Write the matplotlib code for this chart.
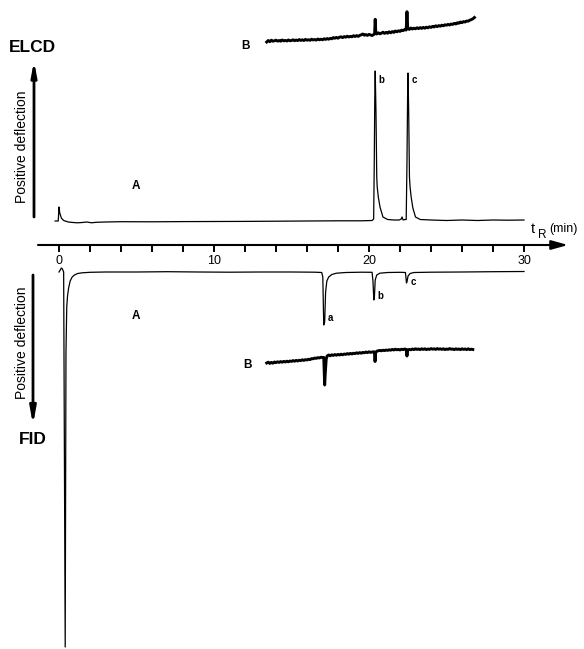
import matplotlib
matplotlib.use("Agg")
import matplotlib.pyplot as plt

plt.rcParams['font.family'] = ['Liberation Sans', 'DejaVu Sans']

# ---------------- data ----------------
tick_major = [0, 10, 20, 30]
tick_minor = [2, 4, 6, 8, 12, 14, 16, 18, 22, 24, 26, 28]
tick_labels = ['0', '10', '20', '30']

# ELCD chromatogram A (retention time, min / response, positive up)
elcd_a_t = [-0.25, -0.05, 0.0, 0.05, 0.15, 0.3, 0.6, 0.9, 1.2, 1.5, 1.8, 2.1, 2.4,
            3.0, 4.0, 6.0, 8.0, 10.0, 12.0, 14.0, 16.0, 18.0, 19.5, 20.2, 20.3,
            20.34, 20.37, 20.4, 20.45, 20.5, 20.53, 20.6, 20.71, 20.9, 21.2, 21.6,
            21.95, 22.08, 22.13, 22.2, 22.32, 22.4, 22.45, 22.49, 22.52, 22.56,
            22.61, 22.65, 22.72, 22.83, 23.0, 23.3, 24.0, 25.0, 26.0, 27.0, 28.0,
            29.0, 30.0]
elcd_a_v = [1, 1, 15, 9, 4, 1.5, 0, -0.5, -0.8, -0.5, 0, -0.8, -0.3,
            0, 0.3, 0.2, 0.4, 0.5, 0.6, 0.8, 1.0, 1.2, 1.2, 1.5, 3,
            60, 120, 151, 110, 45, 35, 25, 15, 5, 2.5, 2,
            2, 3, 5, 2, 2.5, 2.5, 60, 125, 149, 110,
            45, 35, 25, 14, 5, 2.5, 2, 1.5, 2, 1.5, 2,
            1.8, 2]

# FID chromatogram A (positive deflection downward)
fid_a_t = [0.0, 0.08, 0.15, 0.22, 0.30, 0.40, 0.45, 0.5, 0.55, 0.62, 0.72, 0.85,
           1.0, 1.2, 1.5, 2.0, 3, 5, 7, 9, 11, 13, 15, 16.5, 16.95, 17.02, 17.08,
           17.14, 17.2, 17.28, 17.4, 17.6, 17.9, 18.5, 19.5, 20.2, 20.26, 20.31,
           20.35, 20.4, 20.5, 20.7, 21.2, 22.0, 22.35, 22.42, 22.46, 22.52, 22.65,
           22.9, 24, 26, 28, 30]
fid_a_v = [0, -2, -4, -3, 0, 375, 80, 35, 24, 16, 9, 5,
           3, 1.5, 0.8, 0.3, 0, 0, -0.3, 0, 0.2, 0, 0, 0.2, 0.5, 5, 53,
           50, 20, 9, 5, 2.5, 1.2, 0.5, 0.2, 0.3, 10, 28,
           25, 8, 3, 1.2, 0.5, 0.3, 0.5, 11, 9, 4, 1.5,
           0.5, 0.2, 0, -0.3, -0.5]

# ELCD chromatogram B (expanded, positive up)
elcd_b_t = [13.4, 13.5, 13.6, 13.7, 13.8, 13.9, 14.0, 14.1, 14.2, 14.3, 14.4, 14.5,
            14.6, 14.7, 14.8, 14.9, 15.0, 15.1, 15.2, 15.3, 15.4, 15.5, 15.6, 15.7,
            15.8, 15.9, 16.0, 16.1, 16.2, 16.3, 16.4, 16.5, 16.6, 16.7, 16.8, 16.9,
            17.0, 17.1, 17.2, 17.3, 17.4, 17.5, 17.6, 17.7, 17.8, 17.9, 18.0, 18.1,
            18.2, 18.3, 18.4, 18.5, 18.6, 18.7, 18.8, 18.9, 19.0, 19.1, 19.2, 19.3,
            19.4, 19.5, 19.6, 19.7, 19.8, 19.9, 20.0, 20.1, 20.2, 20.3, 20.36, 20.4,
            20.44, 20.5, 20.6, 20.7, 20.8, 20.9, 21.0, 21.1, 21.2, 21.3, 21.4, 21.5,
            21.6, 21.7, 21.8, 21.9, 22.0, 22.1, 22.2, 22.3, 22.4, 22.45, 22.5, 22.6,
            22.7, 22.8, 22.9, 23.0, 23.1, 23.2, 23.3, 23.4, 23.5, 23.6, 23.7, 23.8,
            23.9, 24.0, 24.1, 24.2, 24.3, 24.4, 24.5, 24.6, 24.7, 24.8, 24.9, 25.0,
            25.1, 25.2, 25.3, 25.4, 25.5, 25.6, 25.7, 25.8, 25.9, 26.0, 26.1, 26.2,
            26.3, 26.4, 26.5, 26.6, 26.7, 26.8]
elcd_b_v = [0, 1.5, 0.3, 1.8, 0.8, 1.2, 1.8, 0.9, 1.5, 0.8, 2, 1.1,
            1.6, 1.0, 2.0, 1.2, 1.5, 2.2, 1.3, 2.0, 1.4, 2.4, 1.6, 2.2,
            1.5, 2.6, 1.8, 2.3, 1.7, 2.8, 2.0, 2.5, 1.9, 3.0, 2.2, 2.8,
            2.2, 3.2, 2.6, 3.4, 2.8, 3.6, 3.2, 4.4, 3.8, 4.6, 3.8, 4.8,
            5.2, 4.4, 5.4, 4.8, 5.8, 5.0, 5.6, 5.2, 6.3, 5.5, 6.4, 5.6,
            6.6, 7.2, 8.0, 6.8, 7.4, 6.6, 7.6, 7.0, 6.5, 7.5, 8.0, 22.7,
            9.0, 8.0, 9.2, 8.2, 8.8, 9.8, 8.6, 9.6, 8.8, 10.2, 9.2, 10.4,
            9.6, 11.0, 10.2, 11.2, 10.6, 11.8, 11.4, 12.4, 12.0, 30.3, 13.6, 12.6,
            14.0, 13.0, 13.8, 13.2, 14.2, 13.4, 14.4, 13.6, 14.6, 13.8, 14.8, 14.2,
            15.2, 14.6, 15.6, 15.0, 16.2, 15.4, 16.4, 15.8, 16.8, 16.2, 17.2, 16.8,
            17.6, 17.0, 18.0, 17.6, 18.6, 18.0, 19.2, 18.8, 20.0, 19.4, 20.4, 20.0,
            21.0, 20.8, 21.8, 22.4, 23.2, 24.5]

# FID chromatogram B (expanded, positive deflection downward)
fid_b_t = [13.4, 13.5, 13.6, 13.7, 13.8, 13.9, 14.0, 14.1, 14.2, 14.3, 14.4, 14.5,
           14.6, 14.7, 14.8, 14.9, 15.0, 15.1, 15.2, 15.3, 15.4, 15.5, 15.6, 15.7,
           15.8, 15.9, 16.0, 16.1, 16.2, 16.3, 16.4, 16.5, 16.6, 16.7, 16.8, 16.9,
           17.0, 17.08, 17.14, 17.18, 17.24, 17.3, 17.4, 17.5, 17.6, 17.7, 17.8,
           17.9, 18.0, 18.1, 18.2, 18.3, 18.4, 18.5, 18.6, 18.7, 18.8, 18.9, 19.0,
           19.1, 19.2, 19.3, 19.4, 19.5, 19.6, 19.7, 19.8, 19.9, 20.0, 20.1, 20.2,
           20.3, 20.35, 20.39, 20.43, 20.5, 20.6, 20.7, 20.8, 20.9, 21.0, 21.1, 21.2,
           21.3, 21.4, 21.5, 21.6, 21.7, 21.8, 21.9, 22.0, 22.1, 22.2, 22.3, 22.4,
           22.45, 22.5, 22.6, 22.7, 22.8, 22.9, 23.0, 23.1, 23.2, 23.3, 23.4, 23.5,
           23.6, 23.7, 23.8, 23.9, 24.0, 24.1, 24.2, 24.3, 24.4, 24.5, 24.6, 24.7,
           24.8, 24.9, 25.0, 25.1, 25.2, 25.3, 25.4, 25.5, 25.6, 25.7, 25.8, 25.9,
           26.0, 26.1, 26.2, 26.3, 26.4, 26.5, 26.6, 26.7]
fid_b_v = [0, -0.8, 0.4, -0.6, 0.2, -1.0, -0.4, -1.2, -0.6, -1.4, -0.8, -1.6,
           -1.0, -1.8, -1.2, -2.0, -1.6, -2.4, -1.8, -2.6, -2.0, -2.8, -2.4, -3.2,
           -2.6, -3.4, -3.0, -3.8, -3.4, -4.4, -4.2, -5.0, -4.6, -5.4, -5.0, -5.8,
           -5.4, -5.6, 22, 10, -4, -7.0, -8.0, -7.2, -8.2, -7.6, -8.4,
           -7.8, -8.6, -8.0, -8.8, -8.2, -9.0, -8.6, -9.4, -8.8, -9.6, -9.0, -9.8,
           -9.4, -10.2, -9.6, -10.4, -9.8, -10.6, -10.2, -11.0, -10.4, -11.2, -10.6, -11.0,
           -11.2, -11.0, -1.5, -10.5, -11.8, -12.2, -12.6, -12.2, -12.8, -12.4, -13.0, -12.6,
           -13.2, -12.8, -13.6, -13.0, -13.8, -13.2, -13.6, -13.0, -13.8, -13.4, -14.0, -13.6,
           -7.0, -13.0, -13.6, -13.2, -14.0, -13.4, -14.2, -13.6, -14.0, -13.4, -14.2, -13.6,
           -14.2, -13.4, -14.0, -13.6, -14.4, -13.8, -14.2, -13.6, -14.4, -13.8, -14.2, -13.6,
           -14.2, -13.4, -14.0, -13.6, -14.4, -13.8, -14.0, -13.4, -14.2, -13.6, -14.0, -13.4,
           -14.2, -13.6, -14.0, -13.4, -14.2, -13.4, -13.8, -13.5]

# ---------------- layout ----------------
W, H = 584, 649
T0_PX = 59.0          # pixel column of t = 0
PX_PER_MIN = 15.5
XLIM = (-T0_PX / PX_PER_MIN, (W - T0_PX) / PX_PER_MIN)

fig = plt.figure(figsize=(W / 100, H / 100), dpi=100)
fig.patch.set_facecolor('white')


def trace_axes(baseline_px, downward=False):
    ax = fig.add_axes([0, 0, 1, 1])
    ax.set_xlim(*XLIM)
    if downward:
        ax.set_ylim(H - baseline_px, -baseline_px)
    else:
        ax.set_ylim(-(H - baseline_px), baseline_px)
    ax.axis('off')
    ax.patch.set_visible(False)
    return ax


# decoration axes in pixel coordinates
deco = fig.add_axes([0, 0, 1, 1])
deco.set_xlim(0, W)
deco.set_ylim(H, 0)
deco.axis('off')
deco.patch.set_visible(False)

# time axis
AXIS_Y = 245
tax = fig.add_axes([0, (H - AXIS_Y) / H, 1, 0.02])
tax.set_xlim(*XLIM)
for s in tax.spines.values():
    s.set_visible(False)
tax.patch.set_visible(False)
tax.set_yticks([])
tax.set_xticks(tick_major)
tax.set_xticklabels(tick_labels, fontsize=9)
tax.set_xticks(tick_minor, minor=True)
tax.tick_params(which='both', axis='x', direction='out', length=5, width=1.4,
                pad=2, bottom=True, top=False, color='black')

deco.annotate('', xy=(568, AXIS_Y), xytext=(38, AXIS_Y),
              arrowprops=dict(arrowstyle='-|>,head_length=1.0,head_width=0.28',
                              mutation_scale=10, lw=1.5, color='black',
                              shrinkA=0, shrinkB=0))

# traces
ax1 = trace_axes(222, downward=False)
ax1.plot(elcd_a_t, elcd_a_v, color='black', lw=0.9)
ax2 = trace_axes(272, downward=True)
ax2.plot(fid_a_t, fid_a_v, color='black', lw=0.9)
ax3 = trace_axes(42, downward=False)
ax3.plot(elcd_b_t, elcd_b_v, color='black', lw=2.1, solid_joinstyle='round')
ax4 = trace_axes(363, downward=True)
ax4.plot(fid_b_t, fid_b_v, color='black', lw=2.1, solid_joinstyle='round')

# vertical arrows
deco.annotate('', xy=(34, 61), xytext=(34, 217),
              arrowprops=dict(arrowstyle='-|>,head_length=0.85,head_width=0.16',
                              mutation_scale=10, lw=2.0, color='black',
                              shrinkA=0, shrinkB=0))
deco.annotate('', xy=(33, 425), xytext=(33, 275),
              arrowprops=dict(arrowstyle='-|>,head_length=1.0,head_width=0.18',
                              mutation_scale=10, lw=2.0, color='black',
                              shrinkA=0, shrinkB=0))

# texts
deco.text(32, 48, 'ELCD', fontsize=12.5, fontweight='bold', ha='center', va='center')
deco.text(33, 440, 'FID', fontsize=12.5, fontweight='bold', ha='center', va='center')
deco.text(22, 147, 'Positive deflection', fontsize=10, rotation=90,
          ha='center', va='center')
deco.text(22, 343, 'Positive deflection', fontsize=10, rotation=90,
          ha='center', va='center')
deco.text(136, 186, 'A', fontsize=8.5, fontweight='bold', ha='center', va='center')
deco.text(136, 316, 'A', fontsize=8.5, fontweight='bold', ha='center', va='center')
deco.text(246, 46, 'B', fontsize=8.5, fontweight='bold', ha='center', va='center')
deco.text(247, 365, 'B', fontsize=8.5, fontweight='bold', ha='center', va='center')
deco.text(381, 80, 'b', fontsize=7, fontweight='bold', ha='center', va='center')
deco.text(414, 80, 'c', fontsize=7, fontweight='bold', ha='center', va='center')
deco.text(330, 318, 'a', fontsize=7, fontweight='bold', ha='center', va='center')
deco.text(380, 296, 'b', fontsize=7, fontweight='bold', ha='center', va='center')
deco.text(413, 282, 'c', fontsize=7, fontweight='bold', ha='center', va='center')
deco.text(533, 229, 't', fontsize=10.5, ha='center', va='center')
deco.text(542, 235, 'R', fontsize=8.5, ha='center', va='center')
deco.text(549, 229, '(min)', fontsize=9, ha='left', va='center')

fig.savefig('out.png', dpi=100, facecolor='white')
